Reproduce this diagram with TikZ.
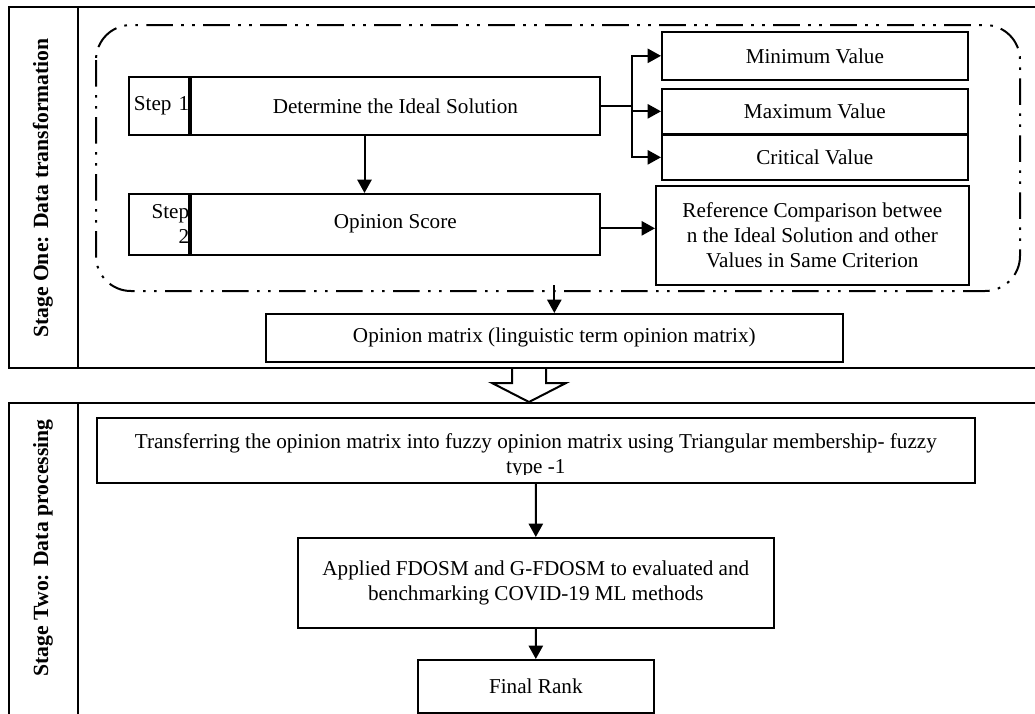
\documentclass[tikz,border=0pt]{standalone}
\usepackage{fontspec}
\setmainfont{Liberation Serif}
\usepackage{tikz}
\usetikzlibrary{positioning,arrows.meta,calc}
\tikzset{
    every edge/.style={draw,-{Triangle[length=8pt,width=8.5pt]},line width=1.2pt},
    arr/.style={draw,-{Triangle[length=8pt,width=8.5pt]},line width=1.2pt},
    box/.style={draw,line width=1pt,align=center,inner sep=2pt,
        font=\fontsize{12.7}{15}\selectfont},
    valbox/.style={box,anchor=north west,minimum width=183.6pt},
    tagbox/.style={box,anchor=north east,minimum width=36pt,text width=36pt,
        inner xsep=0pt,align=right},
    divider/.style={line width=2.2pt},
    stage/.style={line width=1.4pt},
    stagelbl/.style={rotate=90,font=\fontsize{13}{15}\selectfont\bfseries},
    roundframe/.style={line width=1.2pt,rounded corners=21pt,
        dash pattern=on 16pt off 5pt on 1.6pt off 5pt on 1.6pt off 5pt},
}

\begin{document}
\begin{tikzpicture}[x=0.6pt,y=-0.6pt]
    \useasboundingbox (0,0) rectangle (1035,713);
    \clip (0,0) rectangle (1035,713);

    % stage frames
    \draw[stage] (9,7) rectangle (1045,368);
    \draw[stage] (78,7) -- (78,368);
    \draw[stage] (9,403) rectangle (1045,740);
    \draw[stage] (78,403) -- (78,740);
    \node[stagelbl] (lblone) at (43,188) {Stage One: Data transformation};
    \node[stagelbl] (lbltwo) at (43,548) {Stage Two: Data processing};
    \draw[roundframe] (96,25) rectangle (1020,291);

    % stage one
    \node[box,anchor=north west,minimum width=245.4pt,minimum height=34.8pt] (s1) at (190,76) {Determine the Ideal Solution};
    \node[tagbox,minimum height=34.8pt] (t1) at (s1.north west) {Step 1};
    \node[box,anchor=north west,minimum width=245.4pt,minimum height=36.6pt,text height=14pt,text depth=9pt] (s2) at (190,193) {Opinion Score};
    \node[tagbox,minimum height=36.6pt] (t2) at (s2.north west) {Step\\2};
    \draw[divider] (s1.north west) -- (s1.south west);
    \draw[divider] (s2.north west) -- (s2.south west);

    \node[valbox,minimum height=28.8pt] (vmin) at (661,31) {Minimum Value};
    \node[valbox,minimum height=27pt] (vmax) at (661,88) {Maximum Value};
    \node[valbox,minimum height=27pt] (vcrit) at (661,134) {Critical Value};
    \node[box,anchor=north west,minimum width=187.8pt,minimum height=59.4pt] (vref) at (655,185)
        {Reference Comparison betwee\\n the Ideal Solution and other\\Values in Same Criterion};

    \coordinate (br) at ($(s1.east)+(31,0)$);
    \draw[line width=1.2pt] (s1.east) -- (br);
    \draw[arr] (br) |- (vmin.west);
    \draw[arr] (br) |- (vmax.west);
    \draw[arr] (br) |- (vcrit.west);
    \coordinate (s2out) at ($(s2.east)+(0,4)$);
    \draw[arr] (s2out) -- (s2out -| vref.west);
    \coordinate (mid1) at ($(t1.south west)!.5!(s1.south east)$);
    \draw[arr] (mid1) -- (mid1 |- s2.north);

    \node[box,anchor=north west,minimum width=346.2pt,minimum height=28.8pt] (om) at (265,313)
        {Opinion matrix (linguistic term opinion matrix)};
    \draw[arr] ($(om.north)+(0,-28)$) -- (om.north);

    % hollow arrow between stages
    \coordinate (hand) at (529,368);
    \draw[line width=1.2pt,line join=miter] ($(hand)+(-17,0)$) -- ++(0,15) -- ++(-20,0)
        -- ($(hand)+(0,34)$) -- ($(hand)+(37,15)$) -- ++(-20,0) -- ++(0,-15);

    % stage two
    \node[box,anchor=north west,minimum width=526.8pt,minimum height=39pt] (tr) at (96,417) {};
    \begin{scope}
        \clip (tr.north west) rectangle ($(tr.south east)+(0,-9)$);
        \node[box,draw=none] (trtxt) at ($(tr.center)+(0,5)$)
            {Transferring the opinion matrix into fuzzy opinion matrix using Triangular membership- fuzzy\\type -1};
    \end{scope}
    \node[box,anchor=north west,minimum width=285.6pt,minimum height=54pt] (ap) at (297,537)
        {Applied FDOSM and G-FDOSM to evaluated and\\benchmarking COVID-19 ML methods};
    \node[box,anchor=north west,minimum width=141.6pt,minimum height=31.8pt] (fr) at (417,659) {Final Rank};

    \path
    (tr) edge (ap)
    (ap) edge (fr);
\end{tikzpicture}
\end{document}
